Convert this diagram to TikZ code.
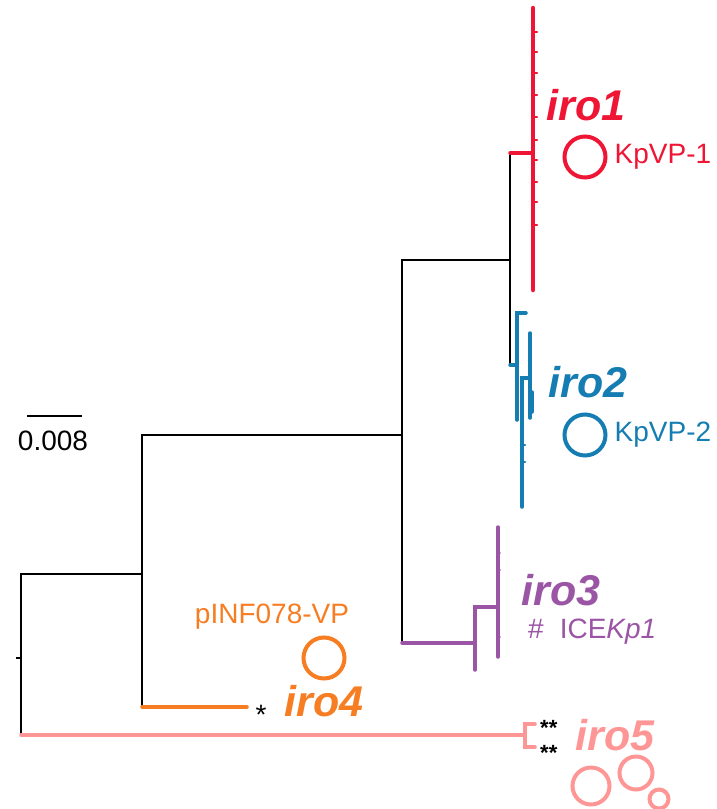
\documentclass[tikz,border=0pt]{standalone}
\usepackage{fontspec}
\setmainfont{Liberation Sans}
\usetikzlibrary{positioning}
\definecolor{irored}{RGB}{238,22,52}
\definecolor{iroblue}{RGB}{22,125,178}
\definecolor{iropurple}{RGB}{155,85,165}
\definecolor{iroorange}{RGB}{247,125,35}
\definecolor{iropink}{RGB}{255,150,150}

\begin{document}
\begin{tikzpicture}[
    x=1pt, y=-1pt,
    branch/.style={draw, line width=2pt, black},
    clade/.style={line width=3.5pt, line cap=round},
    tick/.style={line width=2.5pt, line cap=round},
    plasmid/.style={draw, circle, line width=4pt, inner sep=0pt,
                    minimum size=41pt},
    iro/.style={inner sep=0pt,
                font=\fontsize{43}{43}\selectfont\bfseries\itshape},
    lbl/.style={inner sep=0pt, font=\fontsize{28}{28}\selectfont},
    stars/.style={inner sep=0pt, anchor=west, align=left,
                  font=\fontsize{22}{25}\selectfont\bfseries},
    node distance=7pt
  ]
  \useasboundingbox (0,0) rectangle (717,809);

  % inner nodes and clade roots
  \coordinate (stem) at (16,658);
  \coordinate (root) at (21,658);
  \coordinate (nA) at (142,574);
  \coordinate (nB) at (402,435);
  \coordinate (nC) at (510,260);
  \coordinate (c1) at (533,153);
  \coordinate (c2) at (517,365);
  \coordinate (c3) at (475,643);
  \coordinate (c4) at (247,707);
  \coordinate (c5) at (525,735);

  % backbone
  \draw[branch] (stem) -- (root);
  \foreach \p/\c in {root/nA, nA/nB, nB/nC} {
    \draw[branch] (\p) |- (\c);
  }
  \foreach \p/\c/\col in {root/c5/iropink, nA/c4/iroorange, nB/c3/iropurple,
                          nC/c1/irored, nC/c2/iroblue} {
    \draw[branch] (\p) -- (\p |- \c);
    \draw[clade, \col] (\p |- \c) -- (\c);
  }

  % iro1 clade
  \draw[clade, irored, line width=4.5pt] (533,8) -- (533,290);
  \foreach \y in {32,52,73,95,117,140,160,182,202,225} {
    \draw[tick, irored] (533,\y) -- (537,\y);
  }

  % iro2 clade
  \draw[clade, iroblue] (526,313) -| (517,420);
  \draw[clade, iroblue] (530,378) -| (522,507);
  \draw[clade, iroblue] (530,333) -- (530,418);
  \draw[clade, iroblue] (532,392) -- (532,412);
  \foreach \y in {445,462} {
    \draw[tick, iroblue] (522,\y) -- (525,\y);
  }

  % iro3 clade
  \draw[clade, iropurple] (475,670) |- (498,607);
  \draw[clade, iropurple] (498,527) -- (498,657);
  \foreach \y in {553,570,637} {
    \draw[tick, iropurple, line width=1.5pt] (498,\y) -- (500,\y);
  }

  % iro5 clade
  \draw[clade, iropink] (535,724) -| (525,747) -- (535,747);

  % labels
  \node[iro, irored] (iro1) at (586,105) {iro1};
  \node[plasmid, irored] (p1) at (585,157) {};
  \node[lbl, irored, right=of p1] (vp1) {KpVP-1};

  \node[iro, iroblue] (iro2) at (588,382) {iro2};
  \node[plasmid, iroblue] (p2) at (585,435) {};
  \node[lbl, iroblue, right=of p2] (vp2) {KpVP-2};

  \node[iro, iropurple] (iro3) at (561,590) {iro3};
  \node[lbl, iropurple, anchor=west] (ice) at (528,632)
    {\#\hspace{16pt}ICE\textit{Kp1}};

  \node[lbl, iroorange] (inf) at (272,617) {pINF078-VP};
  \node[plasmid, iroorange] (p4) at (324,658) {};
  \node[iro, iroorange] (iro4) at (324,701) {iro4};
  \node[lbl, anchor=base] (s4) at (261,724) {*};

  \node[iro, iropink] (iro5) at (615,735) {iro5};
  \node[stars] (s5) at (540,740) {**\\**};
  \node[plasmid, iropink, minimum size=37pt] (p5a) at (591,786) {};
  \node[plasmid, iropink, minimum size=33pt] (p5b) at (636,773) {};
  \node[plasmid, iropink, minimum size=19pt] (p5c) at (659,799) {};

  % scale bar
  \coordinate (sbL) at (27,416);
  \coordinate (sbR) at (82,416);
  \draw[branch] (sbL) -- (sbR);
  \node[lbl] (sbtext) at (53,441) {0.008};
\end{tikzpicture}
\end{document}
